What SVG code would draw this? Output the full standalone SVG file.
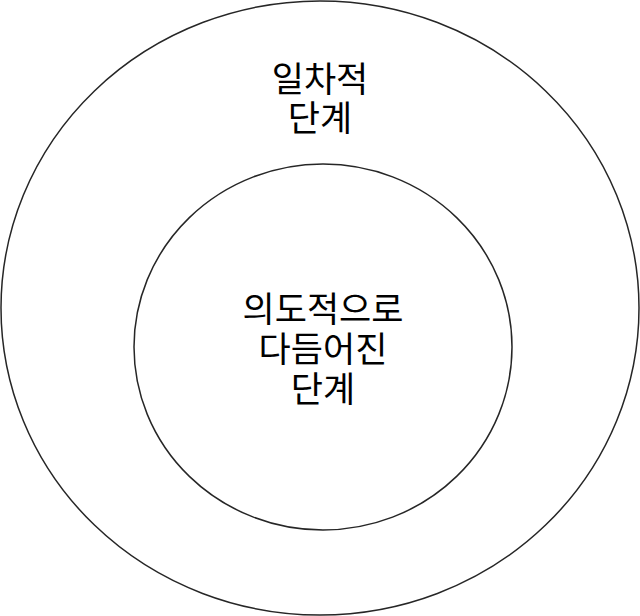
<svg xmlns="http://www.w3.org/2000/svg" width="640" height="616" viewBox="0 0 640 616">
<style>
.c{fill:#ffffff;stroke:#262626;stroke-width:1.5}
.t{font-family:"Noto Sans CJK KR","Noto Sans",sans-serif;font-size:35px;fill:#000000;text-anchor:middle}
</style>
<rect width="640" height="616" fill="#ffffff"/>
<g id="outer">
<ellipse class="c" cx="320" cy="308" rx="319" ry="307"/>
<text class="t" x="320" y="92">일차적<tspan x="320" y="131">단계</tspan></text>
</g>
<g id="inner">
<ellipse class="c" cx="323" cy="347" rx="189" ry="183"/>
<text class="t" x="323" y="322">의도적으로<tspan x="323" y="362">다듬어진</tspan><tspan x="323" y="402">단계</tspan></text>
</g>
<g id="connectors"></g>
</svg>
